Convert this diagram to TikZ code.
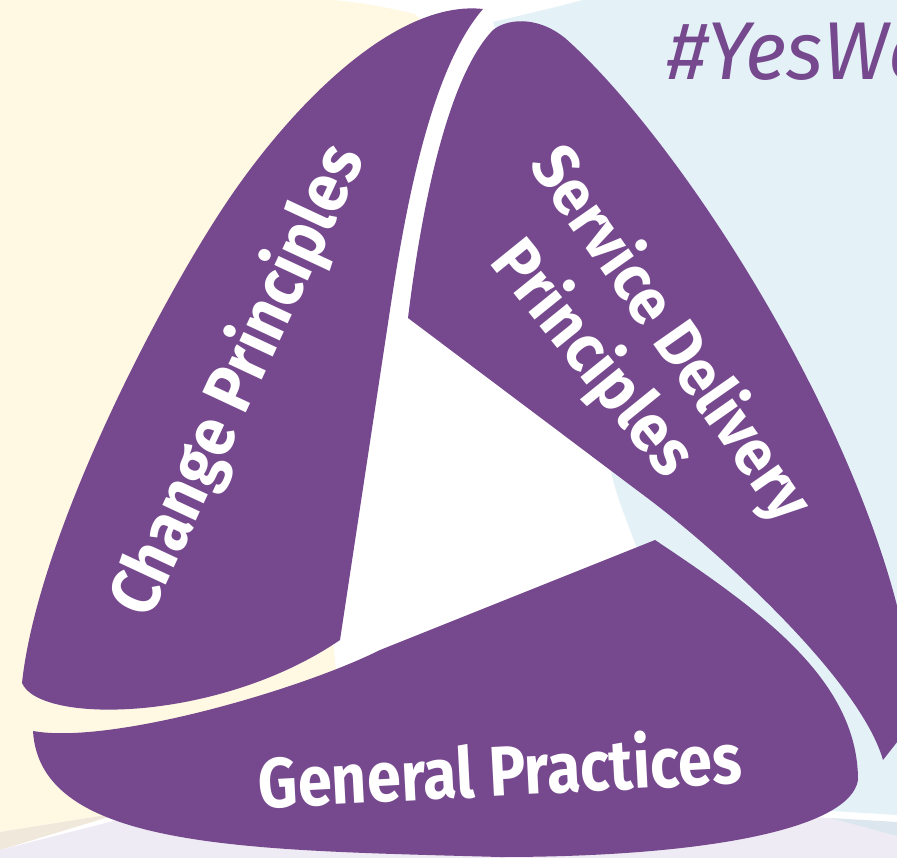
\documentclass[tikz,border=0pt]{standalone}
\usepackage{fontspec}
\setmainfont{Fira Sans}
\usepackage{graphicx}
\definecolor{petal}{HTML}{76488E}
\definecolor{cream}{HTML}{FFF9E3}
\definecolor{skyblue}{HTML}{E4F2F8}
\definecolor{lav}{HTML}{EFEBF4}
\definecolor{beige}{HTML}{F0E8DB}
\definecolor{bluegrey}{HTML}{DCE6EE}
\begin{document}
\begin{tikzpicture}[x=1pt,y=-1pt,
  petalfill/.style={fill=petal},
  lbl/.style={text=white,font=\bfseries,inner sep=0pt},
  tag/.style={text=petal,font=\itshape\fontsize{82}{90}\selectfont,inner sep=0pt}]
\useasboundingbox (0,0) rectangle (897,858);
\fill[white] (0,0) rectangle (897,858);
% background regions
\fill[cream] (0,0) -- (333,0) .. controls (365,3) and (390,8) .. (415,14) -- (440,40) -- (370,330) -- (333,640) -- (338,690) -- (125,812) -- (0,832) -- cycle;
\fill[beige] (0,832) -- (125,812) -- (0,850) -- cycle;
\fill[skyblue] (493,22) -- (560,6) -- (583,0) -- (897,0) -- (897,815) -- (783,808) -- plot[smooth] coordinates {(783,808) (710,700) (665,620) (635,543) (613,480) (595,390) (565,260) (530,130) (493,22)} -- cycle;
\fill[lav] (0,850) -- (125,818) .. controls (300,808) and (650,810) .. (830,818) -- (897,836) -- (897,858) -- (0,858) -- cycle;
\fill[bluegrey] (830,818) -- (897,822) -- (897,836) -- cycle;
% Change Principles petal
\fill[petalfill] (483,9) .. controls (400,0) and (301,95) .. (233,193)
  .. controls (165,291) and (38,533) .. (22,683)
  .. controls (40,725) and (220,722) .. (340,640)
  -- (390,310) .. controls (405,211) and (430,70) .. (483,9) -- cycle;
% Service Delivery petal
\fill[petalfill] (408,318) -- (650,500)
  .. controls (720,553) and (860,680) .. (883,760)
  -- (930,700) -- (905,640)
  .. controls (860,420) and (680,140) .. (565,38)
  .. controls (535,14) and (505,20) .. (493,30)
  .. controls (445,80) and (420,220) .. (408,318) -- cycle;
% General Practices petal
\fill[petalfill] (655,540) -- (380,650)
  .. controls (300,690) and (110,745) .. (33,731)
  .. controls (40,850) and (250,850) .. (500,857)
  .. controls (700,857) and (850,830) .. (858,780)
  .. controls (858,680) and (760,610) .. (655,540) -- cycle;
% labels
\node[lbl,rotate=65] (cp) at (239,381) {\scalebox{1}[1.1]{\resizebox{510pt}{!}{Change Principles}}};
\node[lbl,rotate=-55] (sd) at (670,335) {\scalebox{1}[1.08]{\resizebox{440pt}{!}{Service Delivery}}};
\node[lbl,rotate=-51] (sp) at (592,359) {\scalebox{1}[1.08]{\resizebox{280pt}{!}{Principles}}};
\node[lbl,rotate=3] (gp) at (500,768) {\scalebox{1}[1.15]{\resizebox{484pt}{!}{General Practices}}};
\node[tag,anchor=base west] (yw) at (667,80) {\scalebox{0.97}[1]{\#YesWe}};
\end{tikzpicture}
\end{document}
